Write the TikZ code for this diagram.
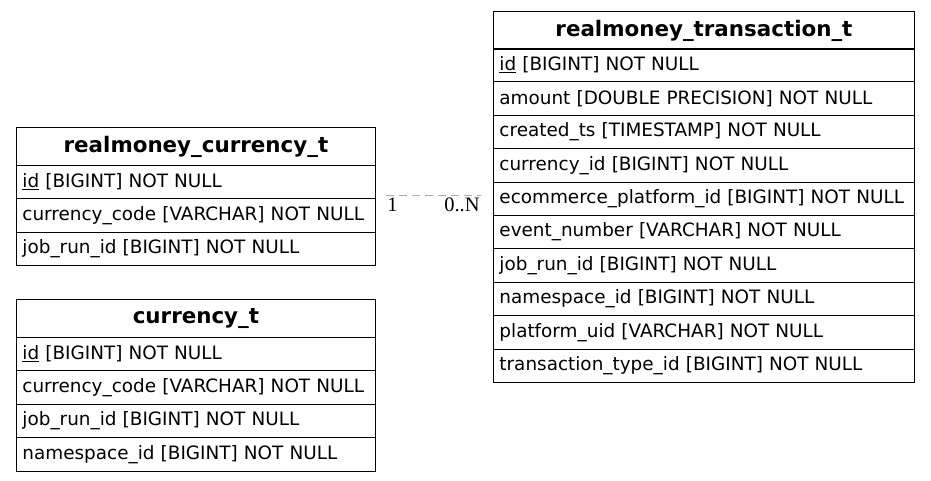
\documentclass[tikz,border=0pt]{standalone}
\usepackage{fontspec}
\setmainfont{DejaVu Sans}
\newfontfamily\mulfont{Liberation Serif}

\begin{document}
\begin{tikzpicture}[x=1pt, y=-1pt, line width=0.9pt, font=\fontsize{18.4}{22}\selectfont]
\tikzset{
	erhead/.style={draw, anchor=north west, align=center, inner xsep=6pt, minimum height=38pt, font=\fontsize{21.4}{25}\selectfont\bfseries},
	errow/.style={draw, anchor=north west, align=left, inner xsep=6pt, minimum height=33.4pt},
	curtbl/.style={text width=347pt},
	trtbl/.style={text width=409pt},
	fkedge/.style={draw=gray!65, line width=0.9pt, dash pattern=on 8pt off 5pt},
	mult/.style={font=\fontsize{20.5}{24}\selectfont\mulfont, inner sep=1pt}
}
\useasboundingbox (0,0) rectangle (931,481);

% realmoney_currency_t
\node[erhead, curtbl] (rc) at (16,127) {realmoney\_currency\_t};
\node[errow, curtbl] (rc_id) at (16,165) {\underline{id} [BIGINT] NOT NULL};
\node[errow, curtbl] (rc_code) at (16,198.4) {currency\_code [VARCHAR] NOT NULL};
\node[errow, curtbl] (rc_job) at (16,231.8) {job\_run\_id [BIGINT] NOT NULL};

% currency_t
\node[erhead, curtbl] (cu) at (16,299) {currency\_t};
\node[errow, curtbl] (cu_id) at (16,337) {\underline{id} [BIGINT] NOT NULL};
\node[errow, curtbl] (cu_code) at (16,370.4) {currency\_code [VARCHAR] NOT NULL};
\node[errow, curtbl] (cu_job) at (16,403.8) {job\_run\_id [BIGINT] NOT NULL};
\node[errow, curtbl] (cu_ns) at (16,437.2) {namespace\_id [BIGINT] NOT NULL};

% realmoney_transaction_t
\node[erhead, trtbl] (rt) at (493,11) {realmoney\_transaction\_t};
\node[errow, trtbl] (rt_id) at (493,48) {\underline{id} [BIGINT] NOT NULL};
\node[errow, trtbl] (rt_amt) at (493,81.4) {amount [DOUBLE PRECISION] NOT NULL};
\node[errow, trtbl] (rt_ts) at (493,114.8) {created\_ts [TIMESTAMP] NOT NULL};
\node[errow, trtbl] (rt_cur) at (493,148.2) {currency\_id [BIGINT] NOT NULL};
\node[errow, trtbl] (rt_ecom) at (493,181.6) {ecommerce\_platform\_id [BIGINT] NOT NULL};
\node[errow, trtbl] (rt_ev) at (493,215) {event\_number [VARCHAR] NOT NULL};
\node[errow, trtbl] (rt_job) at (493,248.4) {job\_run\_id [BIGINT] NOT NULL};
\node[errow, trtbl] (rt_ns) at (493,281.8) {namespace\_id [BIGINT] NOT NULL};
\node[errow, trtbl] (rt_uid) at (493,315.2) {platform\_uid [VARCHAR] NOT NULL};
\node[errow, trtbl] (rt_type) at (493,348.6) {transaction\_type\_id [BIGINT] NOT NULL};

% currency -> transactions
\coordinate (fk) at ([yshift=3.4pt]rc_id.south east);
\draw[fkedge] ([xshift=10pt]fk) -- node[mult, pos=0, below right, yshift=-1pt] {1} node[mult, pos=1, below left, yshift=-1pt] {0..N} ([xshift=-12pt]fk -| rt_ecom.west);

\end{tikzpicture}
\end{document}
